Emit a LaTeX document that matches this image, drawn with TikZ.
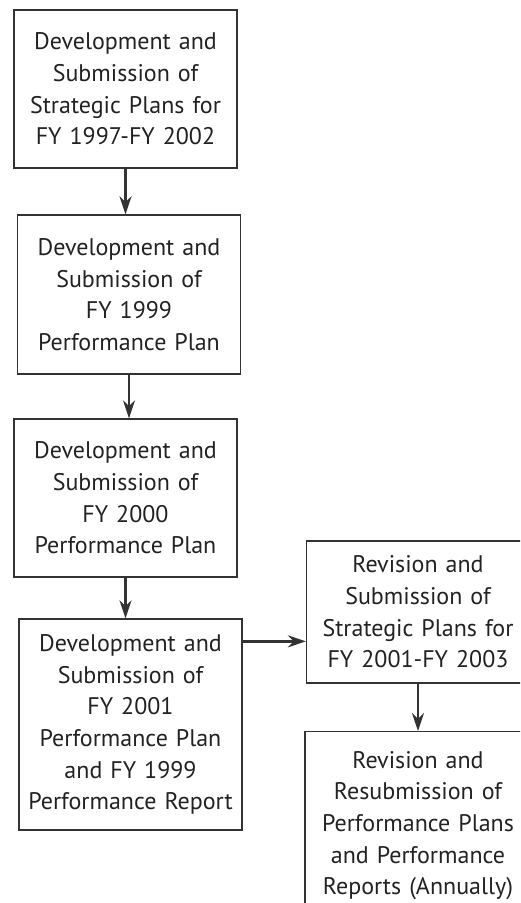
\documentclass[tikz,border=0pt]{standalone}
\usepackage{fontspec}
\setmainfont{PT Sans}
\usepackage{xcolor}
\usepackage{tikz}
\usetikzlibrary{arrows.meta, positioning, calc}
\definecolor{planline}{HTML}{333333}
\definecolor{plantext}{HTML}{222222}

\begin{document}
\begin{tikzpicture}[
  x=1pt, y=-1pt,
  stage/.style={draw=planline, line width=1.3pt, minimum width=223pt, text width=223pt, align=center, font=\fontsize{24}{31.7}\selectfont, text=plantext, inner sep=0pt},
  flow/.style={-{Stealth[length=18pt,width=12pt]}, line width=2.4pt, planline}
]
\clip (0,0) rectangle (520,903);
\node[stage, minimum height=158pt] (dev97) at (125.5,89) {Development and\\Submission of\\Strategic Plans for\\FY 1997-FY 2002};
\node[stage, minimum height=159pt, minimum width=222pt] (dev99) at (129,294.5) {Development and\\Submission of\\FY 1999\\Performance Plan};
\node[stage, minimum height=158pt] (dev00) at (125.5,498) {Development and\\Submission of\\FY 2000\\Performance Plan};
\node[stage, minimum height=211pt] (dev01) at (130.5,724.5) {Development and\\Submission of\\FY 2001\\Performance Plan\\and FY 1999\\Performance Report};
\node[stage, minimum height=142pt, minimum width=222pt] (rev01) at (418,612) {Revision and\\Submission of\\Strategic Plans for\\FY 2001-FY 2003};
\node[stage, minimum height=188pt, minimum width=226pt, anchor=north] (revann) at (418,731) {Revision and\\Resubmission of\\Performance Plans\\and Performance\\Reports (Annually)};

\draw[flow] (dev97.south) -- (dev97.south |- dev99.north);
\draw[flow] (dev99.south) -- (dev99.south |- dev00.north);
\draw[flow] (dev00.south) -- (dev00.south |- dev01.north);
\coordinate (side) at ([yshift=-23pt]dev01.north east);
\draw[flow] (side) -- (side -| rev01.west);
\draw[flow] (rev01.south) -- (rev01.south |- revann.north);
\end{tikzpicture}
\end{document}
